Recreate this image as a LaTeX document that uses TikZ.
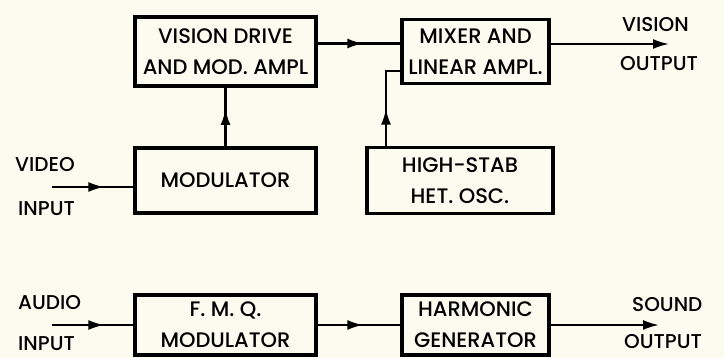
\documentclass[tikz,border=0pt]{standalone}
\usepackage{fontspec}
\setmainfont{Poppins Medium}
\usetikzlibrary{positioning,arrows.meta,decorations.markings}
\definecolor{paper}{RGB}{251,251,240}
\tikzset{midtip/.style={postaction={decorate},decoration={markings,mark=at position #1 with {\arrow{Latex[length=16pt,width=10pt]}}}}}

\begin{document}
\begin{tikzpicture}[x=1pt,y=-1pt]
  \tikzstyle{box}=[draw,line width=3.5pt,inner sep=0pt,outer sep=0pt,align=center,font=\fontsize{21}{31}\selectfont]
  \tikzstyle{lbl}=[anchor=base west,inner sep=0pt,font=\fontsize{20}{22}\selectfont]
  \tikzstyle{link}=[line width=2.2pt]
  \fill[paper] (0,0) rectangle (724,358);
  \useasboundingbox (0,0) rectangle (724,358);
  % vision chain
  \node[box,minimum width=181pt,minimum height=69pt] (vdrive) at (225.5,51.5) {VISION DRIVE\\AND MOD. AMPL};
  \node[box,minimum width=147pt,minimum height=64pt,right=86pt of vdrive] (mixer) {MIXER AND\\LINEAR AMPL.};
  \node[box,minimum width=181pt,minimum height=65pt,below=62pt of vdrive] (modul) {MODULATOR};
  \node[box,minimum width=186pt,minimum height=66pt,right=51pt of modul] (hstab) {HIGH-STAB\\HET. OSC.};
  % sound chain
  \node[box,minimum width=181pt,minimum height=60pt,below=82pt of modul] (fmq) {F. M. Q.\\MODULATOR};
  \node[box,minimum width=147pt,minimum height=60pt,right=86pt of fmq] (harm) {HARMONIC\\GENERATOR};
  \node[lbl] (vid) at (15,172) {VIDEO};
  \node[lbl] (vidin) at (18,216) {INPUT};
  \node[lbl] (aud) at (18,310) {AUDIO};
  \node[lbl] (audin) at (18,351) {INPUT};
  \node[lbl] (vis) at (622,32) {VISION};
  \node[lbl] (visout) at (620,71) {OUTPUT};
  \node[lbl] (snd) at (632,312) {SOUND};
  \node[lbl] (sndout) at (624,349) {OUTPUT};
  \coordinate (vidsrc) at (52,187);
  \coordinate (audsrc) at (52,325);
  \coordinate (visend) at (669,44);
  \coordinate (sndend) at (659,325);
  \coordinate (hbend) at (386,71);
  \draw[link,midtip=0.63] (vidsrc) -- (vidsrc -| modul.west);
  \draw[link,midtip=0.63] (modul) -- (vdrive);
  \draw[link,midtip=0.55] ([yshift=8pt]vdrive.east) -- ([yshift=8pt]vdrive.east -| mixer.west);
  \draw[link,midtip=0.42] (hstab.north -| hbend) -- (hbend) -- (hbend -| mixer.west);
  \draw[link,-{Latex[length=16pt,width=10pt]}] (visend -| mixer.east) -- (visend);
  \draw[link,midtip=0.63] (audsrc) -- (fmq.west);
  \draw[link,midtip=0.55] (fmq) -- (harm);
  \draw[link,-{Latex[length=16pt,width=10pt]}] (harm) -- (sndend);
\end{tikzpicture}
\end{document}
